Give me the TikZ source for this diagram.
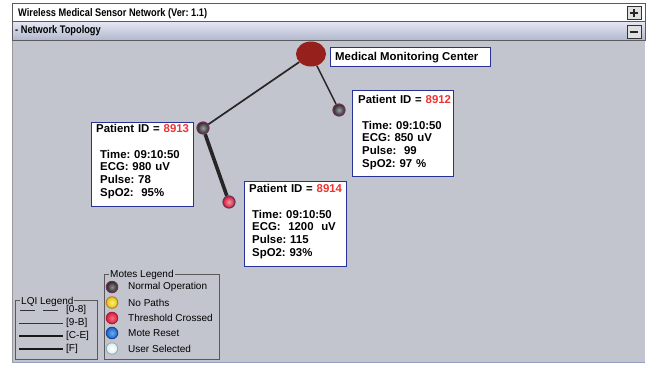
\documentclass[tikz,border=0pt]{standalone}
\usepackage{fontspec}
\setmainfont{Liberation Sans}
\newfontfamily\cond[FakeStretch=0.84]{Liberation Sans}
\usetikzlibrary{shapes.geometric}
\frenchspacing
\definecolor{panel}{RGB}{195,197,206}
\definecolor{boxblue}{RGB}{40,50,150}
\definecolor{idred}{RGB}{240,50,50}
\definecolor{centerred}{RGB}{150,32,28}
\definecolor{ring}{RGB}{110,50,85}
\definecolor{frame}{RGB}{90,90,95}
\definecolor{motedark}{RGB}{40,40,42}
\definecolor{motered}{RGB}{215,25,55}
\tikzset{
  bar/.style={draw=frame, line width=0.6pt},
  bartext/.style={anchor=base west, inner sep=0pt, font=\cond\fontsize{11}{13}\selectfont\bfseries},
  iconbox/.style={draw=black!80, fill=black!12, line width=0.9pt, minimum width=14pt, minimum height=13pt, inner sep=0pt},
  pbox/.style={draw=boxblue, fill=white, line width=1.4pt, anchor=north west, inner sep=0pt},
  ptext/.style={anchor=north west, inner sep=0pt, align=left, text width=100pt, font=\fontsize{11.4}{12.8}\selectfont\bfseries},
  mote/.style={circle, minimum size=12pt, inner sep=0pt, draw=ring, line width=1.2pt, shading=radial, inner color=#1!45!white, outer color=#1},
  legmote/.style={circle, minimum size=11.5pt, inner sep=0pt, line width=1pt, shading=radial},
  link/.style={line width=1.7pt, black!85},
  strong/.style={line width=3.6pt, black!85},
  legtext/.style={anchor=west, inner sep=0pt, font=\fontsize{10}{12}\selectfont},
  group/.style={draw=black!65, line width=0.7pt},
  grouptitle/.style={anchor=west, fill=panel, inner xsep=1pt, inner ysep=0pt, font=\fontsize{10}{12}\selectfont},
}
\begin{document}
\begin{tikzpicture}[x=1pt,y=-1pt]
\useasboundingbox[fill=white] (0,0) rectangle (660,368);
% panel
\fill[panel] (12,40) rectangle (645,362);
\draw[line width=1pt, color={rgb,255:red,150;green,160;blue,190}] (12,362) -- (645,362);
\draw[line width=0.6pt, black!40] (12,40) -- (12,362);
% title bar
\draw[bar, fill=white] (12,3) rectangle (645,21);
\node[bartext] (title) at (18,16) {Wireless Medical Sensor Network (Ver: 1.1)};
\node[iconbox] (plus) at (634,13) {};
\draw[line width=1.3pt, black!85] ([yshift=-3pt]plus.north) -- ([yshift=3pt]plus.south) ([xshift=3pt]plus.west) -- ([xshift=-3pt]plus.east);
% topology bar
\shade[top color={rgb,255:red,230;green,232;blue,244}, bottom color={rgb,255:red,178;green,184;blue,205}] (12,21) rectangle (645,40);
\draw[bar] (12,21) rectangle (645,40);
\node[bartext] (topo) at (15,33) {- Network Topology};
\node[iconbox] (minus) at (634,32) {};
\draw[line width=1.3pt, black!85] ([xshift=3pt]minus.west) -- ([xshift=-3pt]minus.east);

% monitoring center
\node[ellipse, fill=centerred, minimum width=30pt, minimum height=25pt, inner sep=0pt] (mmc) at (311,54) {};
\node[draw=boxblue, fill=white, line width=1.4pt, anchor=north west, minimum width=160pt, minimum height=19pt, inner sep=0pt] (mmcbox) at (330,47) {};
\node[anchor=base west, inner sep=0pt, font=\fontsize{11.4}{13}\selectfont\bfseries] (mmclabel) at (335,60) {Medical Monitoring Center};

% motes
\node[mote=motedark] (m8913) at (203,128) {};
\node[mote=motedark] (m8912) at (339,110) {};
\node[mote=motered] (m8914) at (229,202) {};

% connectors
\draw[link] (mmc) -- (m8913);
\draw[link, line width=1.5pt] (mmc) -- (m8912);
\draw[strong] (m8913) -- (m8914);

% patient boxes
\node[pbox, minimum width=102pt, minimum height=84pt] (b8913) at (91,122) {};
\node[ptext] (t8913) at (96,124) {Patient ID = \textcolor{idred}{8913}\\[12.8pt]
\hspace*{4pt}Time: 09:10:50\\ \hspace*{4pt}ECG: 980 uV\\ \hspace*{4pt}Pulse: 78\\ \hspace*{4pt}SpO2:\ \ 95\%};

\node[pbox, minimum width=101pt, minimum height=86pt] (b8912) at (352,90) {};
\node[ptext] (t8912) at (358,95) {Patient ID = \textcolor{idred}{8912}\\[12.8pt]
\hspace*{4pt}Time: 09:10:50\\ \hspace*{4pt}ECG: 850 uV\\ \hspace*{4pt}Pulse:\ \ 99\\ \hspace*{4pt}SpO2: 97 \%};

\node[pbox, minimum width=102pt, minimum height=85pt] (b8914) at (244,181) {};
\node[ptext] (t8914) at (249,184) {Patient ID = \textcolor{idred}{8914}\\[12.8pt]
\hspace*{3pt}Time: 09:10:50\\ \hspace*{3pt}ECG:\ \ 1200\ \ uV\\ \hspace*{3pt}Pulse: 115\\ \hspace*{3pt}SpO2: 93\%};

% LQI legend
\draw[group] (15,300) rectangle (97,359);
\node[grouptitle] (lqititle) at (20,301.5) {LQI Legend};
\draw[black!80, line width=0.8pt, dash pattern=on 15pt off 8pt] (20,310) -- (62,310);
\node[legtext] (l1) at (66,310) {[0-8]};
\draw[black!80, line width=0.7pt] (19,323) -- (63,323);
\node[legtext] (l2) at (66,323) {[9-B]};
\draw[black!90, line width=1.7pt] (19,336) -- (63,336);
\node[legtext] (l3) at (66,336) {[C-E]};
\draw[black!90, line width=2.6pt] (19,349) -- (63,349);
\node[legtext] (l4) at (66,349) {[F]};

% Motes legend
\draw[group] (104,274) rectangle (219,359);
\node[grouptitle] (motestitle) at (109,275) {Motes Legend};
\node[legmote, draw=ring, inner color=black!45, outer color=black!85] (lm1) at (112,287) {};
\node[legtext] (lt1) at (128,287) {Normal Operation};
\node[legmote, draw={rgb,255:red,190;green,120;blue,40}, inner color={rgb,255:red,250;green,240;blue,120}, outer color={rgb,255:red,225;green,195;blue,20}] (lm2) at (112,302.5) {};
\node[legtext] (lt2) at (128,302.5) {No Paths};
\node[legmote, draw={rgb,255:red,170;green,30;blue,60}, inner color={rgb,255:red,245;green,110;blue,130}, outer color={rgb,255:red,215;green,30;blue,60}] (lm3) at (112,318) {};
\node[legtext] (lt3) at (128,318) {Threshold Crossed};
\node[legmote, draw={rgb,255:red,30;green,70;blue,150}, inner color={rgb,255:red,110;green,170;blue,240}, outer color={rgb,255:red,25;green,100;blue,200}] (lm4) at (112,333) {};
\node[legtext] (lt4) at (128,333) {Mote Reset};
\node[legmote, draw={rgb,255:red,150;green,175;blue,185}, inner color=white, outer color={rgb,255:red,225;green,238;blue,240}] (lm5) at (112,348.5) {};
\node[legtext] (lt5) at (128,348.5) {User Selected};
\end{tikzpicture}
\end{document}
